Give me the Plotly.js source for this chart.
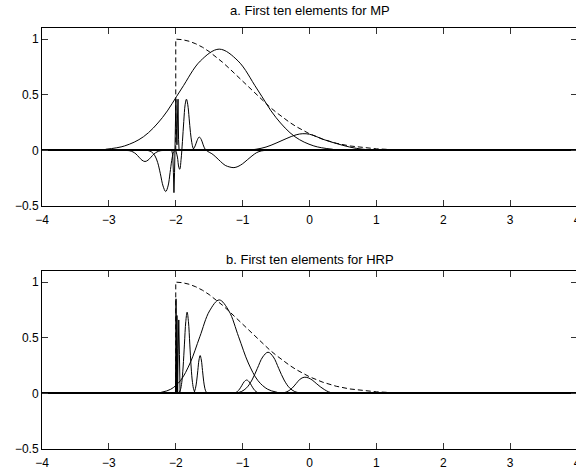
<!DOCTYPE html>
<html>
<head>
<meta charset="utf-8">
<script src="https://cdn.plot.ly/plotly-3.0.1.min.js"></script>
<style>
html,body{margin:0;padding:0;overflow:hidden;background:#fff;}
#chart{width:577px;height:470px;}
</style>
</head>
<body>
<div id="chart"></div>
<script>
// ---- Tick labels ----
const xTickVals = [-4, -3, -2, -1, 0, 1, 2, 3, 4];
const yTickVals = [-0.5, 0, 0.5, 1];
const yTickText = ['\u22120.5', '0', '0.5', '1'];
const titleTop = 'a. First ten elements for MP';
const titleBottom = 'b. First ten elements for HRP';

// ---- Envelope (dashed), same in both panels ----
const envX = [-2, -2, -1.9, -1.8, -1.7, -1.6, -1.5, -1.4, -1.3, -1.2, -1.1, -1.0, -0.9, -0.8, -0.7, -0.6, -0.5, -0.4, -0.3, -0.2, -0.1, 0, 0.2, 0.4, 0.6, 0.8, 1.0, 1.2];
const envY = [0, 1, 0.995, 0.981, 0.958, 0.927, 0.888, 0.843, 0.792, 0.737, 0.680, 0.621, 0.562, 0.504, 0.447, 0.393, 0.343, 0.296, 0.253, 0.214, 0.179, 0.149, 0.100, 0.064, 0.040, 0.024, 0.014, 0.008];

// ---- MP elements (top panel) ----
const mpA_x = [-3.048, -2.765, -2.482, -2.199, -1.916, -1.633, -1.35, -1.067, -0.784, -0.501, -0.218, 0.065, 0.348];
const mpA_y = [0.010, 0.040, 0.123, 0.295, 0.552, 0.803, 0.91, 0.803, 0.552, 0.295, 0.123, 0.040, 0.010];
const mpB_x = [-2.73, -2.685, -2.64, -2.595, -2.55, -2.505, -2.46, -2.415, -2.37, -2.325, -2.28, -2.235, -2.19];
const mpB_y = [-0.001, -0.004, -0.014, -0.032, -0.061, -0.088, -0.1, -0.088, -0.061, -0.032, -0.014, -0.004, -0.001];
const mpC_x = [-2.42, -2.36, -2.31, -2.27, -2.23, -2.19, -2.15, -2.115, -2.085, -2.06, -2.04, -2.02];
const mpC_y = [0, -0.015, -0.05, -0.11, -0.21, -0.32, -0.37, -0.32, -0.2, -0.09, -0.03, 0];
const mpD_x = [-2.06, -2.045, -2.035, -2.027, -2.018, -2.008, -1.998, -1.99, -1.982, -1.974, -1.966, -1.958, -1.95];
const mpD_y = [0, -0.04, -0.2, -0.38, -0.2, 0.1, 0.46, 0.2, 0.05, 0.3, 0.46, 0.1, 0];
const mpE_x = [-2.0, -1.975, -1.955, -1.94, -1.92, -1.9, -1.88, -1.86, -1.84, -1.82, -1.80, -1.78, -1.76, -1.74, -1.72, -1.70];
const mpE_y = [0, -0.06, -0.15, -0.17, -0.08, 0.08, 0.26, 0.41, 0.46, 0.41, 0.29, 0.16, 0.07, 0.02, 0.003, 0];
const mpF_x = [-1.78, -1.74, -1.71, -1.68, -1.65, -1.62, -1.59, -1.56, -1.52, -1.46, -1.4, -1.33, -1.26, -1.19, -1.13, -1.07, -1.0, -0.93, -0.86, -0.79, -0.72, -0.65];
const mpF_y = [0, 0.01, 0.04, 0.09, 0.12, 0.10, 0.05, 0.01, -0.01, -0.03, -0.06, -0.1, -0.135, -0.15, -0.155, -0.145, -0.12, -0.085, -0.05, -0.02, -0.005, 0];
const mpG_x = [-0.95, -0.8, -0.65, -0.5, -0.35, -0.2, -0.1, 0, 0.1, 0.2, 0.3, 0.4, 0.5, 0.6, 0.7, 0.8, 0.9, 1.0];
const mpG_y = [0, 0.01, 0.03, 0.065, 0.105, 0.14, 0.15, 0.145, 0.125, 0.10, 0.08, 0.062, 0.045, 0.03, 0.018, 0.01, 0.004, 0];

// ---- HRP elements (bottom panel) ----
const hrpA_x = [-2.22, -2.075, -1.93, -1.785, -1.64, -1.495, -1.35, -1.205, -1.06, -0.915, -0.77, -0.625, -0.48];
const hrpA_y = [0.009, 0.037, 0.114, 0.273, 0.509, 0.741, 0.84, 0.741, 0.509, 0.273, 0.114, 0.037, 0.009];
const hrpB_x = [-2.004, -2.0, -1.996, -1.992, -1.988];
const hrpB_y = [0, 0.5, 0.85, 0.5, 0];
const hrpC_x = [-1.994, -1.988, -1.982, -1.976, -1.97];
const hrpC_y = [0, 0.4, 0.70, 0.4, 0];
const hrpD_x = [-1.975, -1.965, -1.955, -1.945, -1.935];
const hrpD_y = [0, 0.35, 0.66, 0.35, 0];
const hrpE_x = [-1.95, -1.93, -1.91, -1.89, -1.87, -1.85, -1.83, -1.81, -1.79, -1.77, -1.75, -1.73, -1.71];
const hrpE_y = [0.008, 0.032, 0.099, 0.237, 0.443, 0.644, 0.73, 0.644, 0.443, 0.237, 0.099, 0.032, 0.008];
const hrpF_x = [-1.74, -1.7225, -1.705, -1.6875, -1.67, -1.6525, -1.635, -1.6175, -1.6, -1.5825, -1.565, -1.5475, -1.53];
const hrpF_y = [0.004, 0.015, 0.046, 0.110, 0.206, 0.300, 0.34, 0.300, 0.206, 0.110, 0.046, 0.015, 0.004];
const hrpG_x = [-1.15, -1.115, -1.08, -1.045, -1.01, -0.975, -0.94, -0.905, -0.87, -0.835, -0.8, -0.765, -0.73];
const hrpG_y = [0.001, 0.005, 0.016, 0.039, 0.073, 0.106, 0.12, 0.106, 0.073, 0.039, 0.016, 0.005, 0.001];
const hrpH_x = [-1.1, -1.02, -0.94, -0.86, -0.78, -0.7, -0.62, -0.54, -0.46, -0.38, -0.3, -0.22, -0.14];
const hrpH_y = [0.004, 0.016, 0.050, 0.120, 0.224, 0.327, 0.37, 0.327, 0.224, 0.120, 0.050, 0.016, 0.004];
const hrpI_x = [-0.44, -0.38, -0.32, -0.26, -0.2, -0.14, -0.08, -0.02, 0.04, 0.1, 0.16, 0.22, 0.28, 0.34, 0.4];
const hrpI_y = [0.002, 0.006, 0.020, 0.047, 0.088, 0.128, 0.145, 0.14, 0.12, 0.09, 0.06, 0.035, 0.015, 0.004, 0];

// ---- Build traces ----
const solid = {color: '#000', width: 1};
function curve(x, y, ax, smooth) {
  return {
    x: x, y: y, type: 'scatter', mode: 'lines',
    xaxis: ax === 1 ? 'x' : 'x2', yaxis: ax === 1 ? 'y' : 'y2',
    line: Object.assign({}, solid, smooth ? {shape: 'spline', smoothing: 1} : {}),
    hoverinfo: 'skip', showlegend: false
  };
}
function envelope(ax) {
  return {
    x: envX, y: envY, type: 'scatter', mode: 'lines',
    xaxis: ax === 1 ? 'x' : 'x2', yaxis: ax === 1 ? 'y' : 'y2',
    line: {color: '#000', width: 1, dash: '5px,3px'},
    hoverinfo: 'skip', showlegend: false
  };
}

const traces = [
  envelope(1),
  curve(mpA_x, mpA_y, 1, true),
  curve(mpB_x, mpB_y, 1, true),
  curve(mpC_x, mpC_y, 1, true),
  curve(mpD_x, mpD_y, 1, false),
  curve(mpE_x, mpE_y, 1, true),
  curve(mpF_x, mpF_y, 1, true),
  curve(mpG_x, mpG_y, 1, true),
  envelope(2),
  curve(hrpA_x, hrpA_y, 2, true),
  curve(hrpB_x, hrpB_y, 2, false),
  curve(hrpC_x, hrpC_y, 2, false),
  curve(hrpD_x, hrpD_y, 2, false),
  curve(hrpE_x, hrpE_y, 2, true),
  curve(hrpF_x, hrpF_y, 2, true),
  curve(hrpG_x, hrpG_y, 2, true),
  curve(hrpH_x, hrpH_y, 2, true),
  curve(hrpI_x, hrpI_y, 2, true)
];

const tickFont = {family: '"Liberation Sans", Arial, sans-serif', size: 12, color: '#000'};
function xAxis(anchor) {
  return {
    anchor: anchor, range: [-4, 4], tickvals: xTickVals, ticktext: xTickVals.map(v => v < 0 ? '\u2212' + Math.abs(v) : String(v)),
    showline: true, mirror: 'ticks', linecolor: '#000', linewidth: 1,
    ticks: 'inside', ticklen: 6, tickcolor: '#333', tickwidth: 1,
    ticklabelstandoff: 3, ticklabeloverflow: 'allow',
    showgrid: false, zeroline: false, tickfont: tickFont, fixedrange: true
  };
}
function yAxis(anchor, domain) {
  return {
    anchor: anchor, domain: domain, range: [-0.5, 1.1], tickvals: yTickVals, ticktext: yTickText,
    showline: true, mirror: 'ticks', linecolor: '#000', linewidth: 1,
    ticks: 'inside', ticklen: 6, tickcolor: '#333', tickwidth: 1,
    ticklabeloverflow: 'allow',
    showgrid: false, zeroline: true, zerolinecolor: '#000', zerolinewidth: 2.2,
    tickfont: tickFont, fixedrange: true
  };
}

const H = 470;
const layout = {
  width: 577, height: H,
  margin: {l: 42, r: 0, t: 0, b: 0, pad: 0},
  paper_bgcolor: '#fff', plot_bgcolor: '#fff',
  showlegend: false,
  xaxis: xAxis('y'),
  yaxis: yAxis('x', [(H - 206) / H, (H - 28) / H]),
  xaxis2: xAxis('y2'),
  yaxis2: yAxis('x2', [(H - 449) / H, (H - 271) / H]),
  annotations: [
    {text: titleTop, xref: 'paper', yref: 'paper', x: 0.5, y: 1 - 10 / H, xanchor: 'center', yanchor: 'middle', showarrow: false,
     font: {family: '"Liberation Sans", Arial, sans-serif', size: 13, color: '#000'}},
    {text: titleBottom, xref: 'paper', yref: 'paper', x: 0.5, y: 1 - 259 / H, xanchor: 'center', yanchor: 'middle', showarrow: false,
     font: {family: '"Liberation Sans", Arial, sans-serif', size: 13, color: '#000'}}
  ]
};

Plotly.newPlot('chart', traces, layout, {staticPlot: true, displayModeBar: false});
</script>
</body>
</html>
